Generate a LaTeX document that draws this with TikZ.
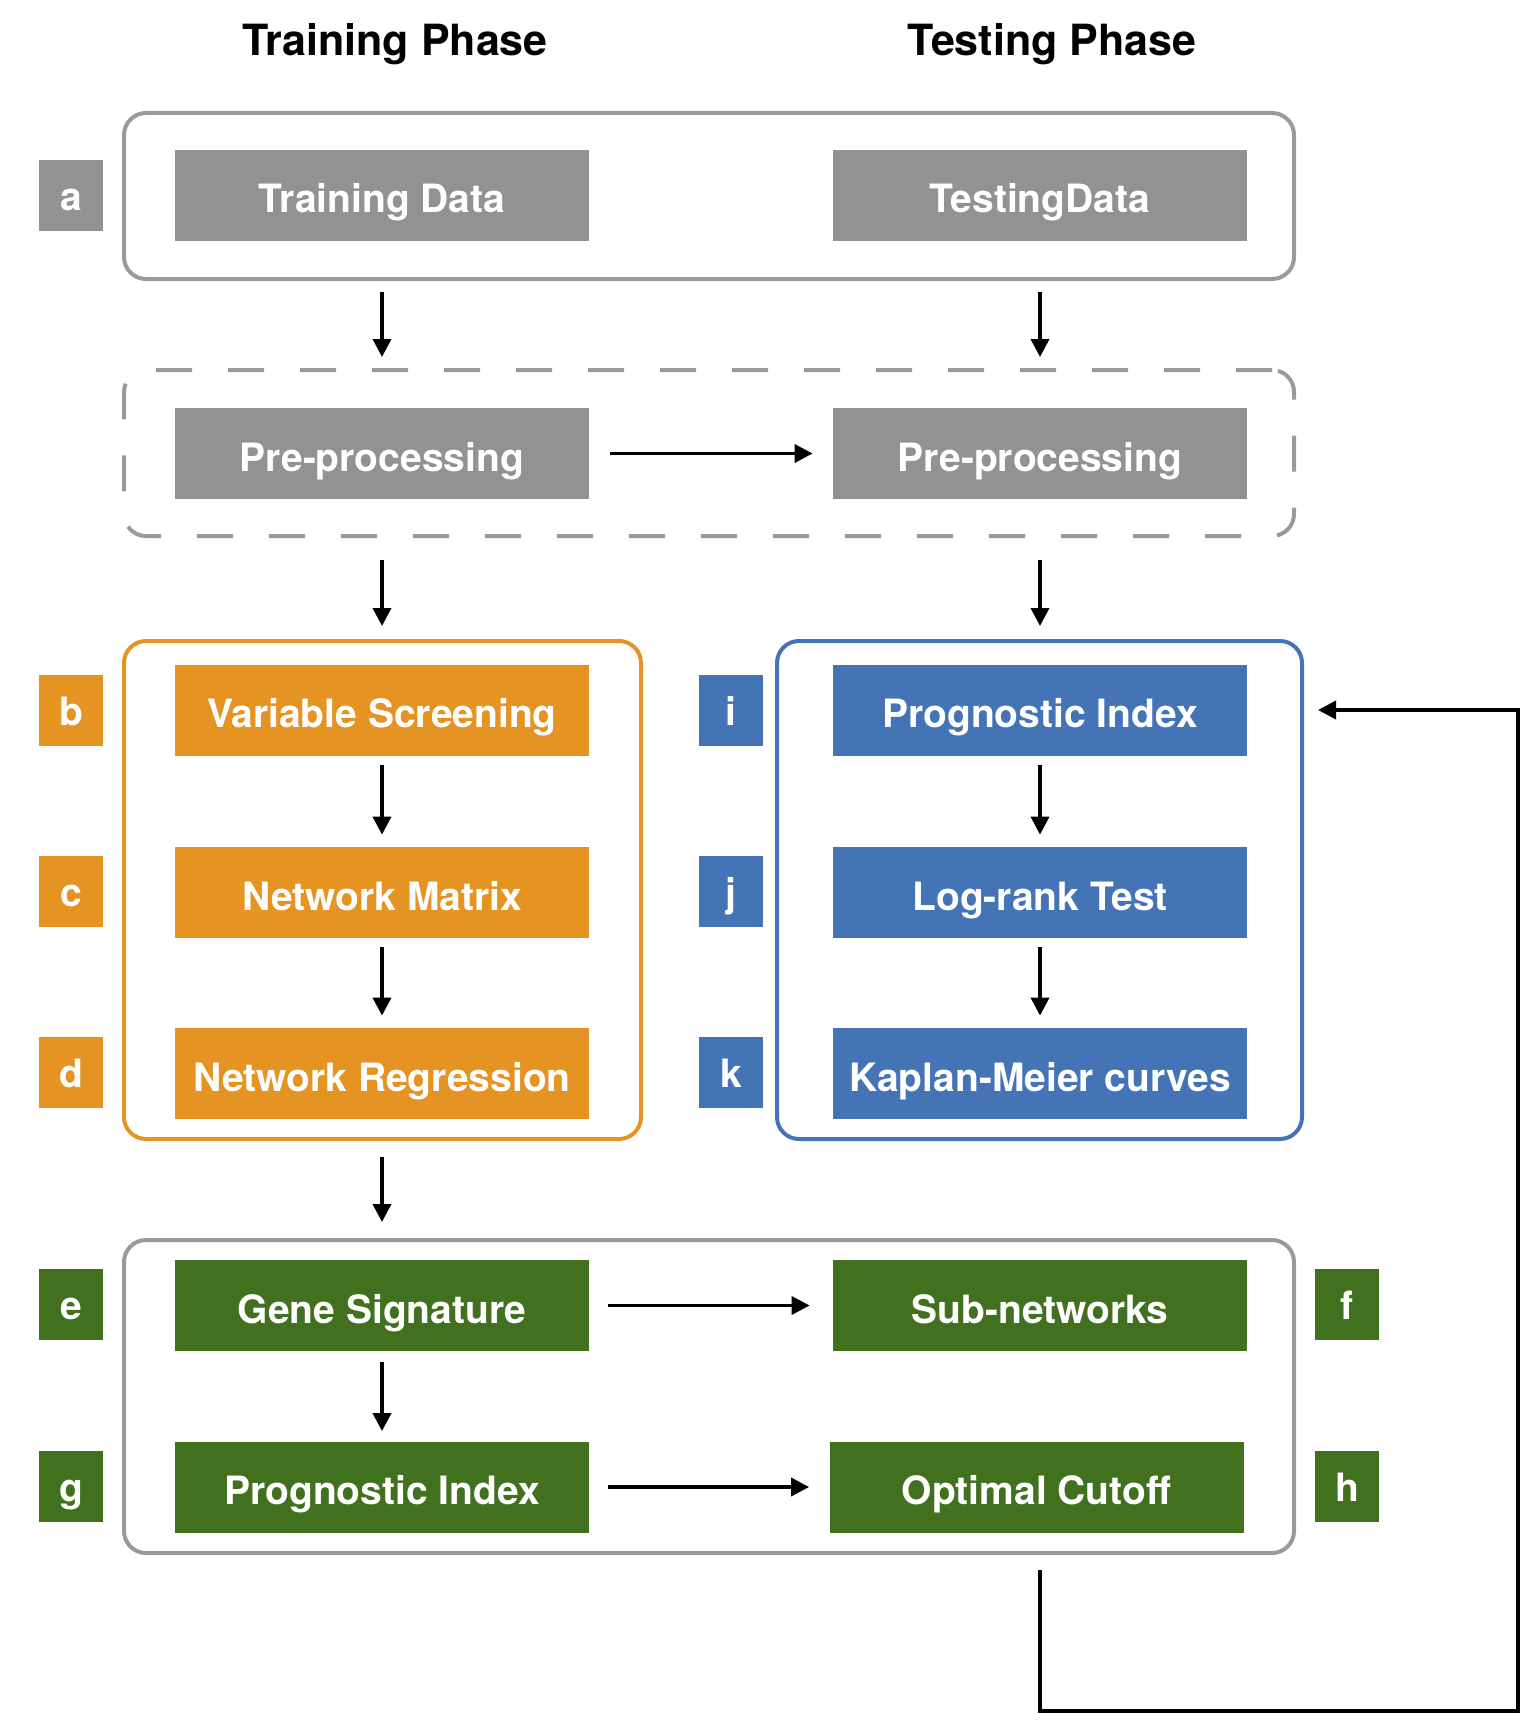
\documentclass[tikz,border=0pt]{standalone}
\usepackage{fontspec}
\setmainfont{TeX Gyre Heros}
\usetikzlibrary{arrows.meta,calc}
\definecolor{boxgray}{HTML}{929292}
\definecolor{framegray}{HTML}{9A9A9A}
\definecolor{orng}{HTML}{E59424}
\definecolor{blu}{HTML}{4473B6}
\definecolor{grn}{HTML}{41701F}
\tikzset{
  stepbox/.style={rectangle, inner sep=0pt, minimum width=207pt, minimum height=45.5pt,
    text height=17.5pt, text depth=0pt,
    text=white, font=\fontsize{19.5}{22}\selectfont\bfseries},
  tagbox/.style={rectangle, inner sep=0pt, minimum width=32pt, minimum height=35.5pt,
    text height=15pt, text depth=0pt,
    text=white, font=\fontsize{19.5}{22}\selectfont\bfseries},
  frame/.style={rectangle, rounded corners=11pt, line width=2pt, inner sep=0pt},
  arr/.style={-{Triangle[length=9pt,width=9pt]}, line width=1.8pt, black},
  title/.style={font=\fontsize{21.5}{25}\selectfont\bfseries},
}
\begin{document}
\begin{tikzpicture}[x=0.5pt,y=-0.5pt]
\useasboundingbox (0,0) rectangle (1539,1734);
% titles
\node[title] (t1) at (395,44) {Training Phase};
\node[title] (t2) at (1052,44) {Testing Phase};
% frames
\node[frame, draw=framegray, minimum width=585pt, minimum height=83pt] (fa) at (709,196) {};
\node[frame, draw=framegray, dash pattern=on 18pt off 18pt, minimum width=585pt, minimum height=83pt] (fb) at (709,453) {};
\node[frame, draw=orng, minimum width=258.5pt, minimum height=249pt] (fo) at (382.5,890) {};
\node[frame, draw=blu, minimum width=262.5pt, minimum height=249pt] (fl) at (1039.5,890) {};
\node[frame, draw=framegray, minimum width=585pt, minimum height=156.5pt] (fe) at (709,1396.5) {};
% step boxes
\node[stepbox, fill=boxgray] (tr) at (382,195.5) {Training Data};
\node[stepbox, fill=boxgray] (te) at (1040,195.5) {TestingData};
\node[stepbox, fill=boxgray] (p1) at (382,453.5) {Pre-processing};
\node[stepbox, fill=boxgray] (p2) at (1040,453.5) {Pre-processing};
\node[stepbox, fill=orng] (vs) at (382,710) {Variable Screening};
\node[stepbox, fill=orng] (nm) at (382,892.5) {Network Matrix};
\node[stepbox, fill=orng] (nr) at (382,1073.5) {Network Regression};
\node[stepbox, fill=blu] (pix) at (1040,710) {Prognostic Index};
\node[stepbox, fill=blu] (lr) at (1040,892.5) {Log-rank Test};
\node[stepbox, fill=blu] (km) at (1040,1073.5) {Kaplan-Meier curves};
\node[stepbox, fill=grn] (gs) at (382,1305.5) {Gene Signature};
\node[stepbox, fill=grn] (sn) at (1040,1305.5) {Sub-networks};
\node[stepbox, fill=grn] (pg) at (382,1487) {Prognostic Index};
\node[stepbox, fill=grn] (oc) at (1036.5,1487) {Optimal Cutoff};
% tags
\node[tagbox, fill=boxgray] (la) at (71,195.5) {a};
\node[tagbox, fill=orng] (lb) at (71,710.5) {b};
\node[tagbox, fill=orng] (lc) at (71,891.5) {c};
\node[tagbox, fill=orng] (ld) at (71,1072.5) {d};
\node[tagbox, fill=blu] (li) at (731,710.5) {i};
\node[tagbox, fill=blu] (lj) at (731,891.5) {j};
\node[tagbox, fill=blu] (lk) at (731,1072.5) {k};
\node[tagbox, fill=grn] (le) at (71,1304.5) {e};
\node[tagbox, fill=grn] (lf) at (1347,1304.5) {f};
\node[tagbox, fill=grn] (lg) at (71,1486.5) {g};
\node[tagbox, fill=grn] (lh) at (1347,1486.5) {h};
% arrows
\draw[arr, shorten <=5.5pt, shorten >=5.5pt] (fa.south -| tr) -- (fb.north -| tr);
\draw[arr, shorten <=5.5pt, shorten >=5.5pt] (fa.south -| te) -- (fb.north -| te);
\draw[arr, shorten <=10.5pt, shorten >=10pt] (p1.east) -- (p2.west);
\draw[arr, shorten <=11pt, shorten >=6.5pt] (fb.south -| p1) -- (fo.north -| p1);
\draw[arr, shorten <=11pt, shorten >=6.5pt] (fb.south -| p2) -- (fl.north -| p2);
\draw[arr, shorten <=4.5pt, shorten >=6pt] (vs) -- (nm);
\draw[arr, shorten <=4.5pt, shorten >=6pt] (nm) -- (nr);
\draw[arr, shorten <=4.5pt, shorten >=6pt] (pix) -- (lr);
\draw[arr, shorten <=4.5pt, shorten >=6pt] (lr) -- (km);
\draw[arr, shorten <=8pt, shorten >=8pt] (fo.south -| nr) -- (fe.north -| gs);
\draw[arr, shorten <=9.5pt, shorten >=11.5pt] (gs.east) -- (sn.west);
\draw[arr, shorten <=5.5pt, shorten >=5pt] (gs) -- (pg);
\draw[arr, shorten <=9.5pt, shorten >=10pt] (pg.east) -- (oc.west);
% feedback
\coordinate (fbc) at (1518,1711);
\draw[arr, shorten <=7.5pt, shorten >=7pt] (fe.south -| sn) |- (fbc) |- (fl.east |- pix);
\end{tikzpicture}
\end{document}
